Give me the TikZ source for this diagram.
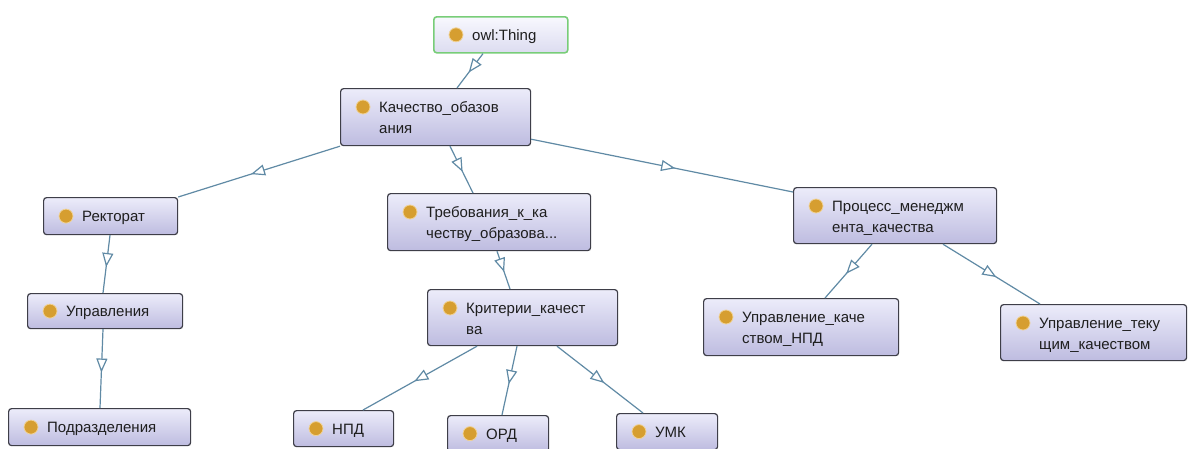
\documentclass[tikz,border=0pt]{standalone}
\usepackage{fontspec}
\setmainfont{Liberation Sans}
\usetikzlibrary{arrows.meta,decorations.markings,calc}
\definecolor{edgec}{RGB}{96,138,165}
\definecolor{boxc}{RGB}{62,62,72}
\definecolor{boxtop}{RGB}{236,236,250}
\definecolor{boxbot}{RGB}{190,188,224}
\definecolor{thingc}{RGB}{120,205,120}
\definecolor{thingtop}{RGB}{248,248,254}
\definecolor{thingbot}{RGB}{220,220,240}
\definecolor{dotc}{RGB}{214,158,48}
\definecolor{dotedge}{RGB}{240,210,150}
\definecolor{textc}{RGB}{30,30,30}
\tikzset{
  cbox/.style={draw=boxc, line width=1.2pt, rounded corners=3pt, top color=boxtop, bottom color=boxbot, anchor=north west, inner sep=0pt},
  thingbox/.style={cbox, draw=thingc, line width=1.6pt, top color=thingtop, bottom color=thingbot},
  dotn/.style={circle, fill=dotc, draw=dotedge, line width=0.8pt, minimum size=14pt, inner sep=0pt},
  lbl/.style={anchor=base west, inner sep=0pt, text=textc, font=\fontsize{15}{18}\selectfont},
  isa/.style={draw=edgec, line width=1.2pt, postaction={decorate},
    decoration={markings, mark=at position 0.55 with {\arrow{Triangle[length=14pt,width=11pt,fill=white,line width=1.2pt]}}}}
}
\newcommand\clsA[7][cbox]{%
  \node[#1, minimum width=#5pt, minimum height=#6pt] (#2) at (#3,#4) {};
  \node[dotn] (#2-d) at ($(#2.west)+(23,0)$) {};
  \node[lbl] (#2-t) at ($(#2.west)+(39,5.5)$) {#7};
}
\newcommand\clsB[8]{%
  \node[cbox, minimum width=#4pt, minimum height=#5pt] (#1) at (#2,#3) {};
  \node[dotn] (#1-d) at ($(#1.north west)+(23,19)$) {};
  \node[lbl] (#1-t1) at ($(#1.north west)+(39,24.5)$) {#6};
  \node[lbl] (#1-t2) at ($(#1.north west)+(39,45.5)$) {#7};
}
\begin{document}
\begin{tikzpicture}[x=1pt,y=-1pt]
\clip (0,0) rectangle (1188,448);
\fill[white] (0,0) rectangle (1188,448);
\clsA[thingbox]{thing}{433}{16}{134}{36}{owl:Thing}
\clsB{kach}{340}{88}{190}{57}{Качество\_обазов}{ания}{}
\clsA{rekt}{43}{197}{134}{37}{Ректорат}
\clsB{treb}{387}{193}{203}{57}{Требования\_к\_ка}{честву\_образова...}{}
\clsB{proc}{793}{187}{203}{56}{Процесс\_менеджм}{ента\_качества}{}
\clsA{upr}{27}{293}{155}{35}{Управления}
\clsB{krit}{427}{289}{190}{56}{Критерии\_качест}{ва}{}
\clsB{upk}{703}{298}{195}{57}{Управление\_каче}{ством\_НПД}{}
\clsB{upt}{1000}{304}{186}{56}{Управление\_теку}{щим\_качеством}{}
\clsA{podr}{8}{408}{182}{37}{Подразделения}
\clsA{npd}{293}{410}{100}{36}{НПД}
\clsA{ord}{447}{415}{101}{36}{ОРД}
\clsA{umk}{616}{413}{101}{36}{УМК}
\draw[isa] ([xshift=50pt]thing.south west) -- ([xshift=117pt]kach.north west);
\draw[isa] (kach.south west) -- (rekt.north east);
\draw[isa] ([xshift=110pt]kach.south west) -- ([xshift=86pt]treb.north west);
\draw[isa] ([yshift=7pt]kach.south east) -- ([yshift=-5pt]proc.north west);
\draw[isa] ([xshift=67pt]rekt.south west) -- ([xshift=76pt]upr.north west);
\draw[isa] ([xshift=76pt]upr.south west) -- ([xshift=92pt]podr.north west);
\draw[isa] ([xshift=110pt]treb.south west) -- ([xshift=83pt]krit.north west);
\draw[isa] ([xshift=50pt]krit.south west) -- ([xshift=70pt]npd.north west);
\draw[isa] ([xshift=90pt]krit.south west) -- ([xshift=55pt]ord.north west);
\draw[isa] ([xshift=130pt]krit.south west) -- ([xshift=27pt]umk.north west);
\draw[isa] ([xshift=79pt]proc.south west) -- ([xshift=122pt]upk.north west);
\draw[isa] ([xshift=150pt]proc.south west) -- ([xshift=40pt]upt.north west);
\end{tikzpicture}
\end{document}
